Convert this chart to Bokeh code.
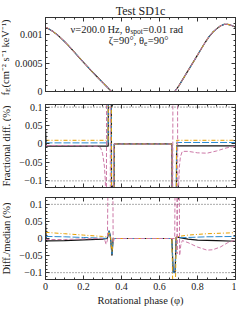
import math
from bokeh.plotting import figure
from bokeh.models import (Range1d, SingleIntervalTicker, LinearAxis, Span, Label,
                          CustomJSTickFormatter)
from bokeh.layouts import column, row
from bokeh.embed import file_html
from bokeh.resources import INLINE

# ---------------- data ----------------
flux_phase = [0.0, 0.02, 0.04, 0.06, 0.08, 0.10, 0.12, 0.14, 0.16, 0.18, 0.20, 0.22, 0.24,
              0.26, 0.28, 0.30, 0.32, 0.34, 0.347, 0.40, 0.50, 0.60, 0.68, 0.70, 0.72, 0.74,
              0.76, 0.78, 0.80, 0.82, 0.84, 0.86, 0.88, 0.90, 0.92, 0.94, 0.96, 0.98, 1.0]
flux_vals = [1.130e-3, 1.095e-3, 1.052e-3, 1.000e-3, 0.942e-3, 0.878e-3, 0.810e-3, 0.737e-3,
             0.662e-3, 0.588e-3, 0.513e-3, 0.440e-3, 0.368e-3, 0.298e-3, 0.228e-3, 0.160e-3,
             0.093e-3, 0.025e-3, 0.0, 0.0, 0.0, 0.0, 0.0, 0.09e-3, 0.20e-3, 0.31e-3,
             0.42e-3, 0.53e-3, 0.64e-3, 0.75e-3, 0.86e-3, 0.96e-3, 1.04e-3, 1.10e-3,
             1.15e-3, 1.18e-3, 1.18e-3, 1.16e-3, 1.13e-3]

# Fractional difference (%)
fd_black_phase = [0, 0.004, 0.1, 0.2, 0.3, 0.33, 0.333, 0.345, 0.349, 0.358, 0.362, 0.5,
                  0.665, 0.669, 0.686, 0.69, 0.8, 0.9, 1.0]
fd_black = [0.04, -0.006, -0.006, -0.006, -0.006, -0.006, 0.5, 0.5, -0.5, -0.5, 0.0, 0.0,
            0.0, -0.5, -0.5, -0.005, -0.005, -0.005, -0.005]
fd_col_phase = [0, 0.33, 0.333, 0.345, 0.349, 0.358, 0.362, 0.665, 0.669, 0.686, 0.69, 1.0]
fd_blue = [0.003, 0.003, 0.5, 0.5, -0.5, -0.5, 0.0, 0.0, -0.5, -0.5, 0.004, 0.004]
fd_orange = [0.010, 0.010, 0.5, 0.5, -0.5, -0.5, 0.0, 0.0, -0.5, -0.5, 0.010, 0.010]
fd_pink_phase = [0, 0.1, 0.2, 0.27, 0.29, 0.30, 0.31, 0.315, 0.32, 0.322, 0.34, 0.342, 0.355,
                 0.36, 0.665, 0.668, 0.672, 0.694, 0.697, 0.70, 0.705, 0.71, 0.72, 0.75, 0.8,
                 0.85, 0.9, 0.95, 1.0]
fd_pink = [-0.004, -0.004, -0.005, -0.006, -0.01, -0.025, -0.06, -0.1, -0.5, 0.5, 0.5, -0.5,
           -0.5, 0.0, 0.0, -0.5, 0.5, 0.5, -0.5, -0.12, -0.06, -0.035, -0.02, -0.02, -0.024,
           -0.025, -0.019, -0.011, -0.006]

# Difference / median (%)
dm_black_phase = [0, 0.004, 0.1, 0.2, 0.3, 0.325, 0.335, 0.342, 0.35, 0.356, 0.5, 0.665,
                  0.672, 0.682, 0.688, 0.7, 0.75, 0.8, 0.9, 1.0]
dm_black = [0.045, -0.007, -0.006, -0.004, -0.002, 0.0, 0.022, 0.005, -0.05, 0.0, 0.0, 0.0,
            -0.098, -0.098, 0.004, 0.003, -0.002, -0.005, -0.006, -0.008]
dm_col_phase = [0, 0.1, 0.2, 0.3, 0.325, 0.335, 0.342, 0.35, 0.356, 0.665, 0.672, 0.682,
                0.688, 0.75, 0.85, 1.0]
dm_blue = [0.006, 0.005, 0.003, 0.001, 0.0, 0.025, 0.0, -0.045, 0.0, 0.0, -0.1, -0.1, 0.002,
           0.003, 0.005, 0.006]
dm_orange = [0.018, 0.014, 0.010, 0.006, 0.004, 0.020, 0.0, -0.04, 0.0, 0.0, -0.2, -0.2, 0.005,
             0.010, 0.014, 0.017]
dm_pink_phase = [0, 0.1, 0.2, 0.3, 0.312, 0.319, 0.326, 0.334, 0.352, 0.356, 0.362, 0.66, 0.68,
                 0.686, 0.69, 0.693, 0.697, 0.701, 0.706, 0.712, 0.72, 0.75, 0.8, 0.85, 0.88,
                 0.92, 0.96, 1.0]
dm_pink = [-0.003, -0.003, -0.001, 0.0, -0.005, -0.017, -0.005, 0.5, 0.5, -0.012, 0.0, 0.0, 0.0,
           0.5, 0.5, -0.045, 0.5, 0.5, -0.05, -0.02, -0.006, -0.012, -0.025, -0.034, -0.033,
           -0.025, -0.012, -0.004]

ref_levels = [0.1, -0.1]
x_ticks = [0, 0.2, 0.4, 0.6, 0.8, 1.0]
x_tick_labels = ["0", "0.2", "0.4", "0.6", "0.8", "1"]
top_ticks = [0, 0.0005, 0.001]
top_tick_labels = ["0", "0.0005", "0.001"]
diff_ticks = [-0.1, -0.05, 0, 0.05, 0.1]
diff_tick_labels = ["\u22120.1", "\u22120.05", "0", "0.05", "0.1"]

# ---------------- style ----------------
FONT = "Liberation Serif"
FRAME = "#333333"
TXT = "#222222"
BLACK = "#111111"
BLUE = "#2A8BD2"
ORANGE = "#E69F00"
PINK = "#CC79A7"

STRIP = 11
W = 236 - STRIP
LEFT = 31
RIGHT = 1
H1, H2, H3 = 97, 95, 116
TOTAL_H = H1 + H2 + H3


def make_fig(height, top, bottom, yr, show_x_labels=False):
    p = figure(width=W, height=height, x_range=Range1d(0, 1), y_range=Range1d(*yr),
               output_backend="svg", toolbar_location=None,
               min_border_left=LEFT, min_border_right=RIGHT,
               min_border_top=top, min_border_bottom=bottom)
    p.grid.visible = False
    p.outline_line_color = FRAME
    p.outline_line_width = 1
    p.background_fill_color = "white"
    p.border_fill_color = "white"
    p.add_layout(LinearAxis(), "right")
    p.add_layout(LinearAxis(), "above")
    for ax in p.axis:
        ax.axis_line_color = FRAME
        ax.major_tick_line_color = FRAME
        ax.minor_tick_line_color = FRAME
        ax.major_tick_in = 4
        ax.major_tick_out = 0
        ax.minor_tick_in = 2
        ax.minor_tick_out = 0
        ax.major_label_text_font = FONT
        ax.major_label_text_font_size = "10px"
        ax.major_label_text_color = TXT
        ax.major_label_standoff = 3
    for ax in p.xaxis:
        ax.ticker = SingleIntervalTicker(interval=0.2, num_minor_ticks=4)
    hidden = p.right + p.above + ([] if show_x_labels else p.below)
    for ax in hidden:
        ax.formatter = CustomJSTickFormatter(code="return ''")
        ax.major_label_text_font_size = "1px"
        ax.major_label_standoff = 0
    if show_x_labels:
        for ax in p.below:
            ax.major_label_overrides = {t: s for t, s in zip(x_ticks, x_tick_labels)}
    return p


def draw_series(p, xs_list, ys_list, width=1.0):
    styles = [
        dict(color=BLACK, dash="solid", w=width + 0.2),
        dict(color=BLUE, dash="7 2", w=width),
        dict(color=ORANGE, dash="4 2 1 2", w=width),
        dict(color=PINK, dash="4 2", w=width),
    ]
    for xs, ys, st in zip(xs_list, ys_list, styles):
        p.line(xs, ys, line_color=st["color"], line_dash=st["dash"], line_width=st["w"])


def lab(p, x, y, text, align, size="10px", angle=0.0, baseline="middle"):
    p.add_layout(Label(x=x, y=y, text=text, text_align=align, angle=angle,
                       text_baseline=baseline, text_font=FONT, text_font_size=size,
                       text_color=TXT))


# ---------------- top panel ----------------
Y1 = (0, 0.0013)
B1T, B1B = 15, 6
p1 = make_fig(H1, B1T, B1B, Y1)
p1.yaxis.ticker = SingleIntervalTicker(interval=0.0005, num_minor_ticks=5)
p1.left[0].major_label_overrides = {t: s for t, s in zip(top_ticks, top_tick_labels)}
ax_top = p1.above[0]
ax_top.axis_label = "Test SD1c"
ax_top.axis_label_text_font = FONT
ax_top.axis_label_text_font_size = "12px"
ax_top.axis_label_text_font_style = "normal"
ax_top.axis_label_text_color = TXT
ax_top.axis_label_standoff = 0
draw_series(p1, [flux_phase] * 4, [flux_vals] * 4, width=1.0)

fh = H1 - B1T - B1B


def y1(px_from_bottom):
    return px_from_bottom / fh * Y1[1]


lab(p1, 0.445, y1(fh - 12), "\u03bd=200.0 Hz, \u03b8", "right", "10.5px")
lab(p1, 0.447, y1(fh - 14.5), "spot", "left", "7.5px")
lab(p1, 0.512, y1(fh - 12), "=0.01 rad", "left", "10.5px")
lab(p1, 0.518, y1(fh - 24), "\u03b6=90\u00b0, \u03b8", "right", "10.5px")
lab(p1, 0.519, y1(fh - 26.5), "e", "left", "7.5px")
lab(p1, 0.538, y1(fh - 24), "=90\u00b0", "left", "10.5px")

# ---------------- middle panel ----------------
Y2 = (-0.118, 0.107)
p2 = make_fig(H2, 7, 5, Y2)
p2.yaxis.ticker = SingleIntervalTicker(interval=0.05, num_minor_ticks=5)
p2.left[0].major_label_overrides = {t: s for t, s in zip(diff_ticks, diff_tick_labels)}
for lv in ref_levels:
    p2.add_layout(Span(location=lv, dimension="width", line_color="#555555",
                       line_dash="1 2", line_width=1))
draw_series(p2, [fd_black_phase, fd_col_phase, fd_col_phase, fd_pink_phase],
            [fd_black, fd_blue, fd_orange, fd_pink])

# ---------------- bottom panel ----------------
Y3 = (-0.12, 0.12)
p3 = make_fig(H3, 5, 29, Y3, show_x_labels=True)
p3.yaxis.ticker = SingleIntervalTicker(interval=0.05, num_minor_ticks=5)
p3.left[0].major_label_overrides = {t: s for t, s in zip(diff_ticks, diff_tick_labels)}
for lv in ref_levels:
    p3.add_layout(Span(location=lv, dimension="width", line_color="#555555",
                       line_dash="1 2", line_width=1))
draw_series(p3, [dm_black_phase, dm_col_phase, dm_col_phase, dm_pink_phase],
            [dm_black, dm_blue, dm_orange, dm_pink])
xb = p3.below[0]
xb.axis_label = "Rotational phase (\u03c6)"
xb.axis_label_text_font = FONT
xb.axis_label_text_font_size = "10.5px"
xb.axis_label_text_font_style = "normal"
xb.axis_label_text_color = TXT
xb.axis_label_standoff = 2

# ---------------- strip with y-axis titles ----------------
s = figure(width=STRIP, height=TOTAL_H, x_range=Range1d(0, STRIP), y_range=Range1d(0, TOTAL_H),
           x_axis_type=None, y_axis_type=None, output_backend="svg", toolbar_location=None,
           min_border=0, min_border_left=0, min_border_right=0, min_border_top=0,
           min_border_bottom=0)
s.grid.visible = False
s.outline_line_color = None
s.background_fill_color = "white"
s.border_fill_color = "white"


def sy(y_from_top):
    return TOTAL_H - y_from_top


top_mid = (B1T + H1 - B1B) / 2.0
lab(s, 5.0, sy(top_mid + 42), "f", "left", "10.5px", math.pi / 2)
lab(s, 7.5, sy(top_mid + 38.5), "E", "left", "7px", math.pi / 2)
lab(s, 5.0, sy(top_mid + 34), " (cm\u207b\u00b2 s\u207b\u00b9 keV\u207b\u00b9)", "left", "10.5px",
    math.pi / 2)
mid_mid = H1 + (7 + H2 - 5) / 2.0
lab(s, 6.0, sy(mid_mid), "Fractional diff. (%)", "center", "10.5px", math.pi / 2)
bot_mid = H1 + H2 + (5 + H3 - 29) / 2.0
lab(s, 6.0, sy(bot_mid), "Diff./median (%)", "center", "10.5px", math.pi / 2)

layout = row(s, column(p1, p2, p3, spacing=0), spacing=0)
open("out.html", "w").write(file_html(layout, INLINE))
